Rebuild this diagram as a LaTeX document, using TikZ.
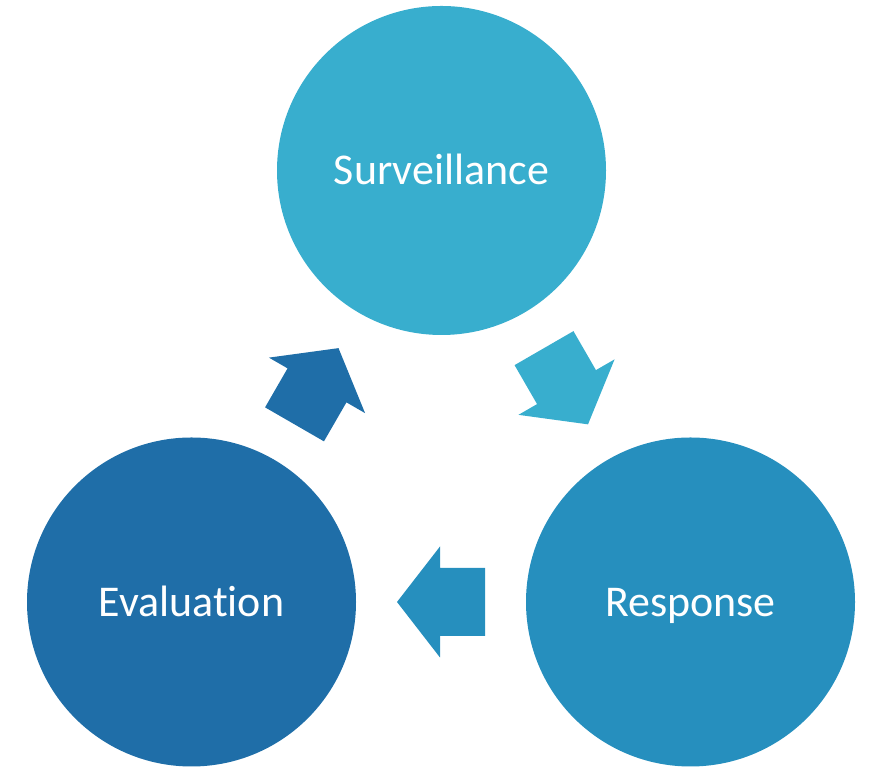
\documentclass[tikz,border=0pt]{standalone}
\usepackage{fontspec}
\setmainfont[Ligatures=NoCommon]{Carlito}
\usepackage{tikz}
\usetikzlibrary{calc}

\definecolor{survblue}{HTML}{38AECE}
\definecolor{respblue}{HTML}{268FBE}
\definecolor{evalblue}{HTML}{1F6EA8}

\tikzset{
    stage/.style={circle, minimum size=6.58cm, inner sep=0pt, outer sep=0pt, text=white, text height=0.77cm, text depth=0.2cm, font=\fontsize{25}{30}\selectfont},
    blockarrow/.pic={\fill (-0.88,-0.68) -- (0.02,-0.68) -- (0.02,-1.11) -- (0.88,0) -- (0.02,1.11) -- (0.02,0.68) -- (-0.88,0.68) -- cycle;}
}

\begin{document}
\begin{tikzpicture}
            \useasboundingbox (0,0) rectangle (17.38,15.34);
            \node[stage, fill=survblue] (surv) at (8.83,11.93) {Surveillance};
            \node[stage, fill=respblue] (resp) at (13.81,3.30) {Response};
            \node[stage, fill=evalblue] (eval) at (3.83,3.30) {Evaluation};
            \pic[survblue, rotate=-60] (survresp) at ($(surv)!0.5!(resp)$) {blockarrow};
            \pic[respblue, rotate=180] (respeval) at ($(resp)!0.5!(eval)$) {blockarrow};
            \pic[evalblue, rotate=60] (evalsurv) at ($(eval)!0.5!(surv)$) {blockarrow};
        \end{tikzpicture}
\end{document}
